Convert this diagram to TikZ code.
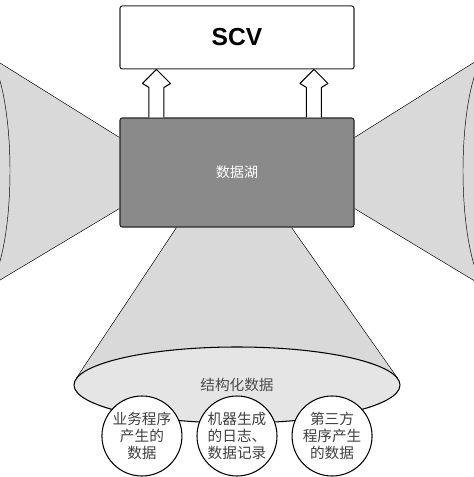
\documentclass[tikz,border=0pt]{standalone}
\usepackage{fontspec}
\setsansfont{Liberation Sans}
\newfontfamily\cjk{Noto Sans CJK SC}
\usetikzlibrary{positioning,calc,shapes.geometric,backgrounds}
\definecolor{lakegray}{rgb}{0.54,0.54,0.54}
\definecolor{conegray}{rgb}{0.85,0.85,0.85}
\definecolor{basegray}{rgb}{0.90,0.90,0.90}

\begin{document}
\begin{tikzpicture}[x=0.03cm,y=-0.03cm,line width=0.9pt,
  box/.style={draw=black!85,rounded corners=2pt,minimum width=7.02cm},
  src/.style={circle,draw,fill=white,minimum size=2.4cm,inner sep=0pt,align=center,
    font=\cjk\fontsize{12.5}{14.5}\selectfont,text=black!75}]
  \useasboundingbox (0,0) rectangle (473,477);
  \clip (0,0) rectangle (473,477);
  \node[box,fill=lakegray,minimum height=3.27cm,text=white,
    font=\cjk\fontsize{12}{14}\selectfont] (lake) at (237,172.5) {数据湖};
  \node[box,fill=white,minimum height=1.89cm,
    font=\sffamily\bfseries\fontsize{21}{24}\selectfont] (scv) [above=1.44cm of lake] {SCV};
  \node[ellipse,draw,fill=basegray,minimum width=9.78cm,minimum height=2.28cm,
    font=\cjk\fontsize{12.5}{14}\selectfont,text=black!70] (struct) at (237,385) {结构化数据};
  \node[src] (app) at (237,436) {机器生成\\的日志、\\数据记录};
  \node[src] (biz) [left=0.42cm of app] {业务程序\\产生的\\数据};
  \node[src] (third) [right=0.42cm of app] {第三方\\程序产生\\的数据};
  % cones
  \begin{scope}[on background layer]
    \coordinate (lt) at ($(lake.north west)+(0,20)$);
    \coordinate (lb) at ($(lake.south west)+(0,-19)$);
    \coordinate (rt) at ($(lake.north east)+(0,20)$);
    \coordinate (rb) at ($(lake.south east)+(0,-19)$);
    \coordinate (bl) at ($(lake.south west)+(57,0)$);
    \coordinate (br) at ($(lake.south east)+(-63,0)$);
    \fill[conegray] (lt) -- (-20,50.5) -- (-20,292) -- (lb) -- cycle;
    \fill[conegray] (rt) -- (493,50.5) -- (493,292) -- (rb) -- cycle;
    \fill[conegray] (bl) -- ($(struct.west)+(3,-7)$) -- ($(struct.east)+(-3,-7)$) -- (br) -- cycle;
    \draw (lt) -- (-20,50.5) (lb) -- (-20,292);
    \draw (rt) -- (493,50.5) (rb) -- (493,292);
    \draw (bl) -- ($(struct.west)+(3,-7)$) (br) -- ($(struct.east)+(-3,-7)$);
    \foreach \cx in {-20,493} { \draw[fill=conegray] (\cx,171) ellipse [x radius=30,y radius=121]; }
  \end{scope}
  \foreach \dx in {37,194.5} {
    \draw[fill=white,line join=round] ($(lake.north west)+(\dx-7.5,0)$) -- ++(0,-30) -- ++(-6.5,-4)
      -- ($(scv.south west)+(\dx,0)$) -- ++(14,14) -- ++(-6.5,4) -- ($(lake.north west)+(\dx+7.5,0)$);
  }
\end{tikzpicture}
\end{document}
